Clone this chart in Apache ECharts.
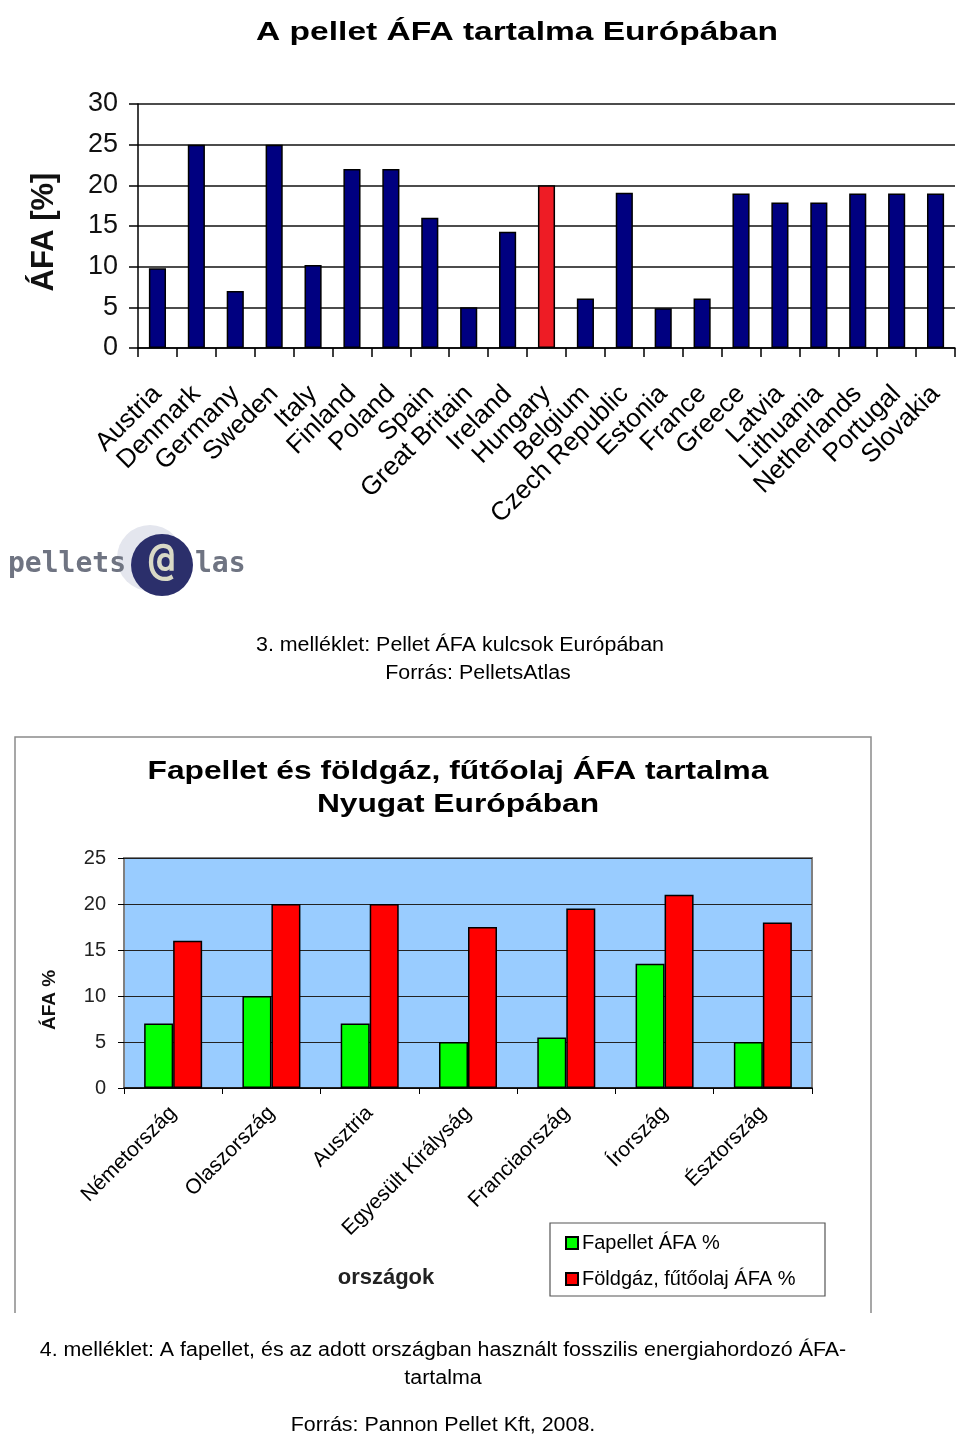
<!DOCTYPE html>
<html><head><meta charset="utf-8">
<script src="https://cdn.jsdelivr.net/npm/echarts@6/dist/echarts.min.js"></script>
<style>html,body{margin:0;padding:0;background:#fff}#c{width:960px;height:1439px}</style>
</head><body><div id="c"></div>
<script>
// ---- Chart 1 data ----
const countries1 = ['Austria','Denmark','Germany','Sweden','Italy','Finland','Poland','Spain','Great Britain','Ireland','Hungary','Belgium','Czech Republic','Estonia','France','Greece','Latvia','Lithuania','Netherlands','Portugal','Slovakia'];
const vatValues1 = [9.8,25,7,25,10.2,22,22,16,5,14.3,20,6.1,19.1,4.9,6.1,19,17.9,17.9,19,19,19];
const highlight1 = 'Hungary';
// ---- Chart 2 data ----
const countries2 = ['Németország','Olaszország','Ausztria','Egyesült Királyság','Franciaország','Írország','Észtország'];
const seriesNames2 = ['Fapellet ÁFA %','Földgáz, fűtőolaj ÁFA %'];
const pelletVat = [7,10,7,5,5.5,13.5,5];
const fossilVat = [16,20,20,17.5,19.5,21,18];

const F = 'Liberation Sans, Arial, sans-serif';
const chart = echarts.init(document.getElementById('c'), null, {renderer:'canvas'});

const data1 = countries1.map((c,i)=> c===highlight1
  ? {value: vatValues1[i], itemStyle:{color:'#EE1C25'}}
  : vatValues1[i]);

chart.setOption({
  animation:false,
  backgroundColor:'#fff',
  grid:[
    {left:138, top:104, width:817, height:244, show:false},
    {left:124, top:858, width:688, height:230, show:true, backgroundColor:'#99CCFF', borderColor:'#808080', borderWidth:2}
  ],
  xAxis:[
    {type:'category', gridIndex:0, data:countries1,
     axisLine:{show:true, lineStyle:{color:'#000', width:1.5}},
     axisTick:{show:true, length:9, lineStyle:{color:'#000', width:1.5}},
     axisLabel:{rotate:45, interval:0, fontSize:26, color:'#000', fontFamily:F, margin:42}},
    {type:'category', gridIndex:1, data:countries2,
     axisLine:{show:true, lineStyle:{color:'#000', width:1.5}},
     axisTick:{show:true, length:6, lineStyle:{color:'#000', width:1}},
     axisLabel:{rotate:45, interval:0, fontSize:21, color:'#000', fontFamily:F, margin:22}}
  ],
  yAxis:[
    {type:'value', gridIndex:0, min:0, max:30, interval:5,
     axisLine:{show:true, lineStyle:{color:'#000', width:1.5}},
     axisTick:{show:true, length:9, lineStyle:{color:'#000', width:1.5}},
     splitLine:{show:true, lineStyle:{color:'#111', width:1.5}},
     axisLabel:{fontSize:27, color:'#111', fontFamily:F, margin:20}},
    {type:'value', gridIndex:1, min:0, max:25, interval:5,
     axisLine:{show:false},
     axisTick:{show:true, length:6, lineStyle:{color:'#000', width:1}},
     splitLine:{show:true, lineStyle:{color:'#222', width:1}},
     axisLabel:{fontSize:20, color:'#222', fontFamily:F, margin:18}}
  ],
  legend:{
    data:seriesNames2, orient:'vertical', left:560, top:1228, itemWidth:12, itemHeight:12, itemGap:16,
    icon:'rect', textStyle:{fontSize:20, color:'#000', fontFamily:F, padding:[0,0,0,-1]}, selectedMode:false
  },
  series:[
    {type:'bar', name:'ÁFA', xAxisIndex:0, yAxisIndex:0, data:data1, barWidth:'44%',
     itemStyle:{color:'#000080', borderColor:'#000', borderWidth:1.5}},
    {type:'bar', name:seriesNames2[0], xAxisIndex:1, yAxisIndex:1, data:pelletVat, barWidth:29, barGap:'0%',
     itemStyle:{color:'#00FF00', borderColor:'#000', borderWidth:1.5}},
    {type:'bar', name:seriesNames2[1], xAxisIndex:1, yAxisIndex:1, data:fossilVat, barWidth:29, barGap:'0%',
     itemStyle:{color:'#FF0000', borderColor:'#000', borderWidth:1.5}}
  ],
  graphic:[
    {type:'text', x:517, y:33, scaleX:1.29, style:{text:'A pellet ÁFA tartalma Európában', font:'bold 26px '+F, fill:'#000', align:'center', verticalAlign:'middle'}},
    {type:'text', x:44, y:232, rotation:Math.PI/2, style:{text:'ÁFA [%]', font:'bold 31px '+F, fill:'#111', align:'center', verticalAlign:'middle'}},
    // logo
    {type:'circle', shape:{cx:150, cy:558, r:33}, style:{fill:'#e4e6ee'}},
    {type:'circle', shape:{cx:162, cy:565, r:31}, style:{fill:'#2b2f6b'}},
    {type:'text', x:162, y:563, style:{text:'@', font:'bold 44px DejaVu Sans Mono', fill:'#d9d9c6', align:'center', verticalAlign:'middle'}},
    {type:'text', x:8, y:565, style:{text:'pellets', font:'bold 28px DejaVu Sans Mono', fill:'#6f7482', align:'left', verticalAlign:'middle'}},
    {type:'text', x:195, y:565, style:{text:'las', font:'bold 28px DejaVu Sans Mono', fill:'#6f7482', align:'left', verticalAlign:'middle'}},
    // caption 3
    {type:'text', x:460, y:645, scaleX:1.07, style:{text:'3. melléklet: Pellet ÁFA kulcsok Európában', font:'20px '+F, fill:'#000', align:'center', verticalAlign:'middle'}},
    {type:'text', x:478, y:673, scaleX:1.07, style:{text:'Forrás: PelletsAtlas', font:'20px '+F, fill:'#000', align:'center', verticalAlign:'middle'}},
    // frame of chart 2
    {type:'polyline', shape:{points:[[15,1313],[15,737],[871,737],[871,1313]]}, style:{stroke:'#8a8a8a', lineWidth:1.5, fill:null}},
    {type:'text', x:458, y:772, scaleX:1.27, style:{text:'Fapellet és földgáz, fűtőolaj ÁFA tartalma', font:'bold 25px '+F, fill:'#000', align:'center', verticalAlign:'middle'}},
    {type:'text', x:458, y:805, scaleX:1.27, style:{text:'Nyugat Európában', font:'bold 25px '+F, fill:'#000', align:'center', verticalAlign:'middle'}},
    {type:'text', x:50, y:1000, rotation:Math.PI/2, style:{text:'ÁFA %', font:'bold 19px '+F, fill:'#111', align:'center', verticalAlign:'middle'}},
    {type:'text', x:386, y:1278, style:{text:'országok', font:'bold 22px '+F, fill:'#222', align:'center', verticalAlign:'middle'}},
    {type:'rect', shape:{x:550, y:1223, width:275, height:73}, style:{fill:'#fff', stroke:'#555', lineWidth:1.2}, z:0},
    // caption 4
    {type:'text', x:443, y:1350, scaleX:1.07, style:{text:'4. melléklet: A fapellet, és az adott országban használt fosszilis energiahordozó ÁFA-', font:'20px '+F, fill:'#000', align:'center', verticalAlign:'middle'}},
    {type:'text', x:443, y:1378, scaleX:1.07, style:{text:'tartalma', font:'20px '+F, fill:'#000', align:'center', verticalAlign:'middle'}},
    {type:'text', x:443, y:1425, scaleX:1.07, style:{text:'Forrás: Pannon Pellet Kft, 2008.', font:'20px '+F, fill:'#000', align:'center', verticalAlign:'middle'}}
  ]
});
</script></body></html>
